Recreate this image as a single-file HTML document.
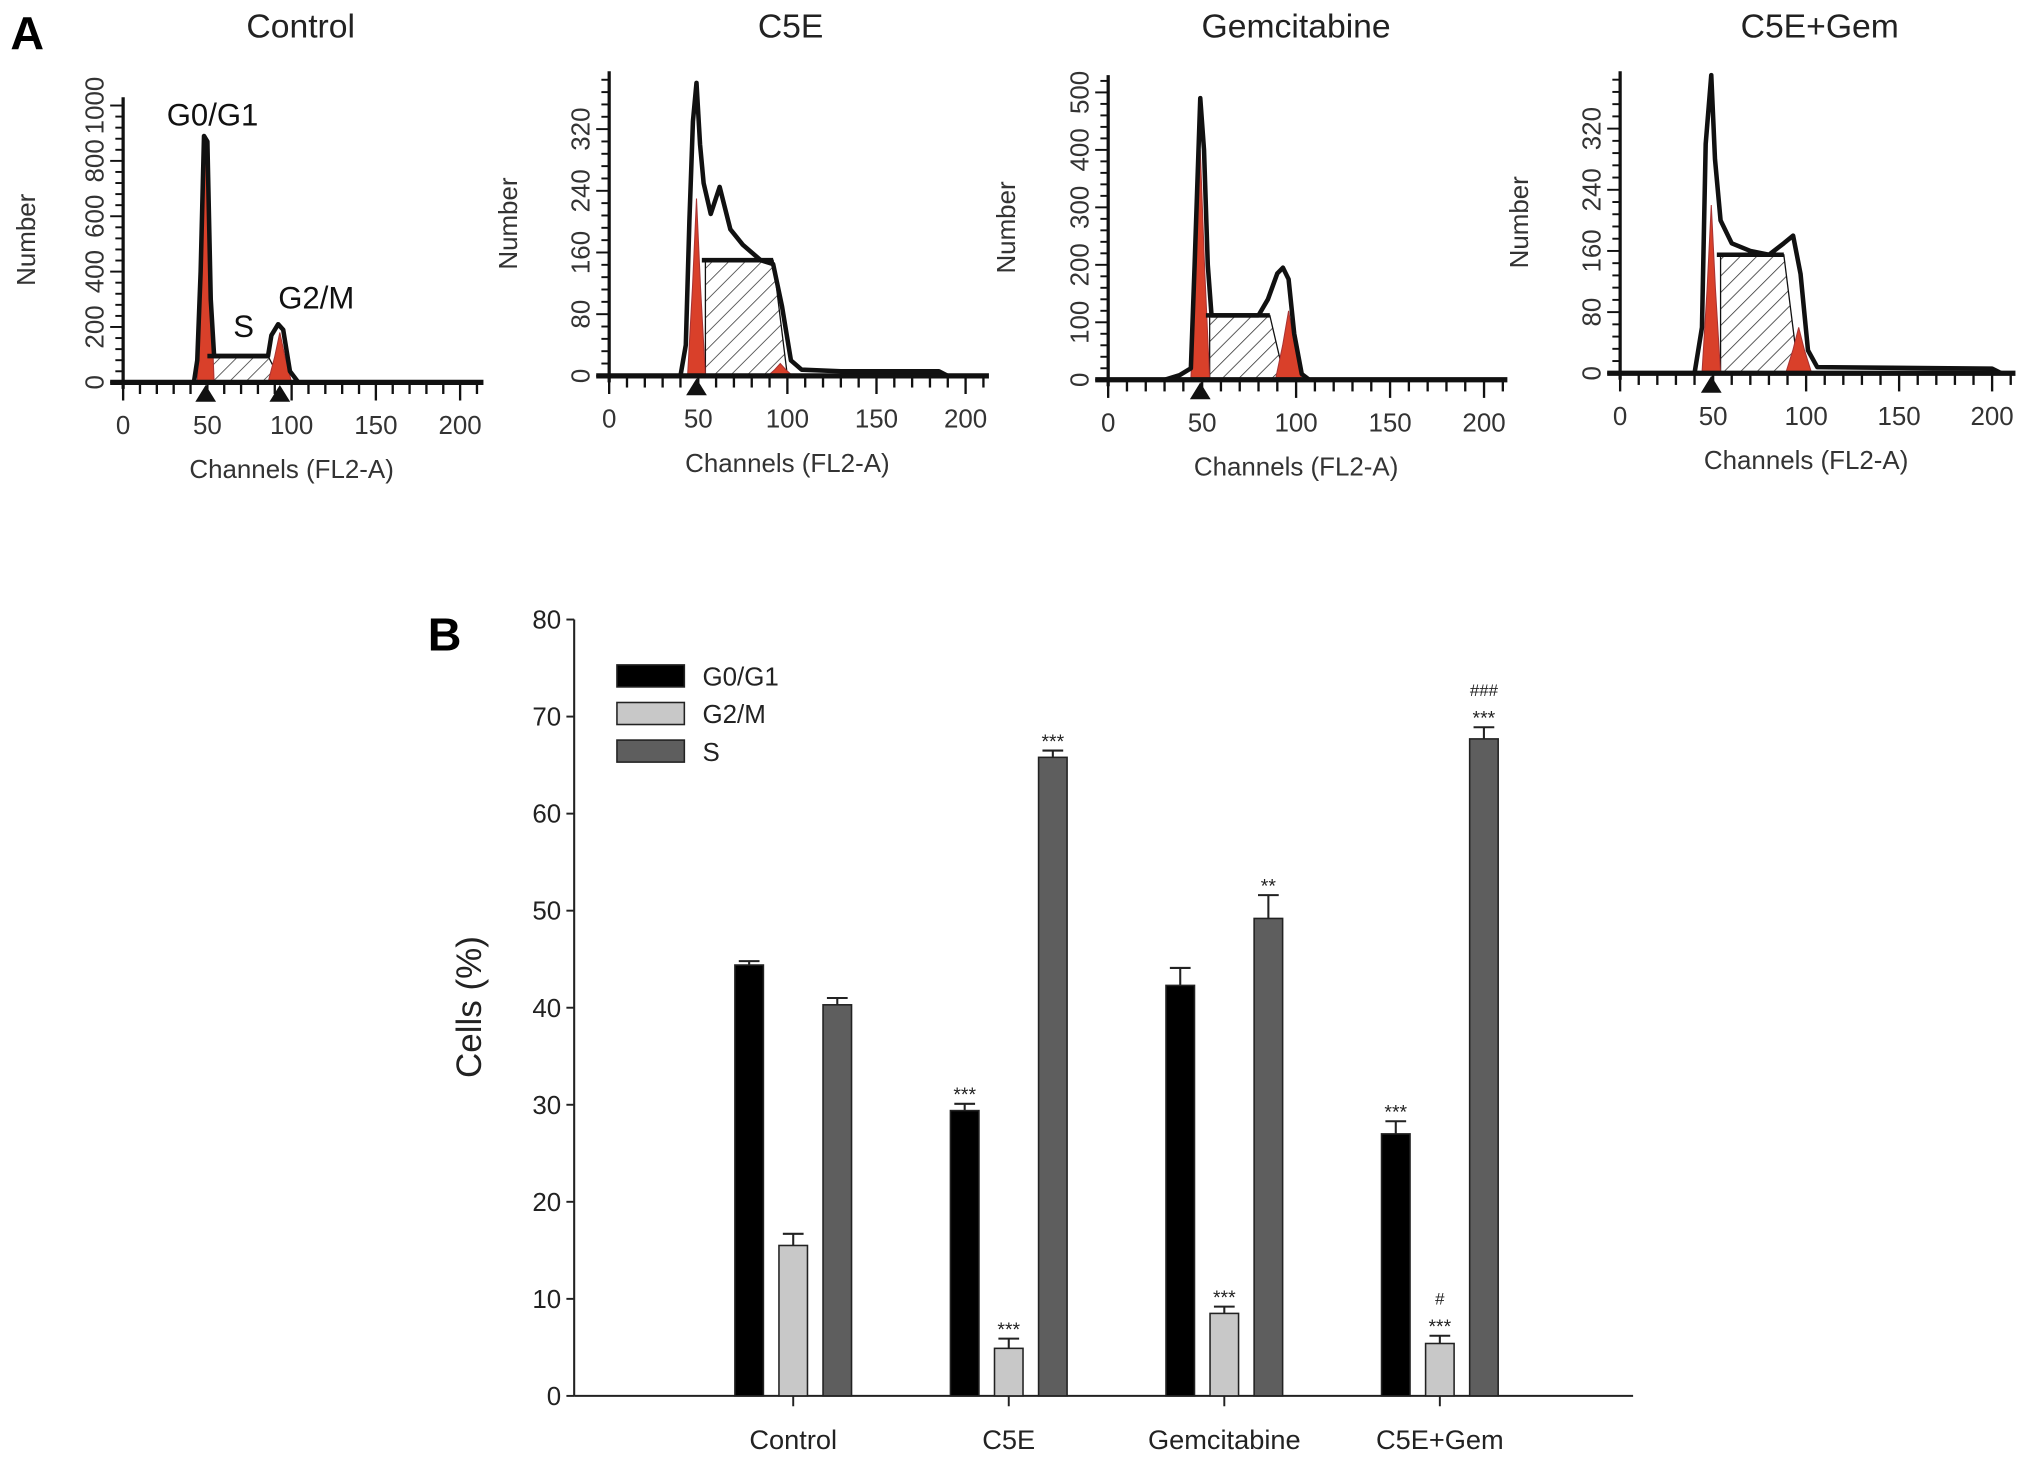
<!DOCTYPE html>
<html><head><meta charset="utf-8"><style>
html,body{margin:0;padding:0;background:#fff;}
svg{display:block;font-family:"Liberation Sans",sans-serif;}
</style></head><body>
<svg id="fig" width="2031" height="1462" viewBox="0 0 1567 1128" preserveAspectRatio="none" xmlns="http://www.w3.org/2000/svg">
<defs>
<pattern id="hatch" patternUnits="userSpaceOnUse" width="9" height="9" patternTransform="rotate(45)">
<rect width="9" height="9" fill="#fff"/><line x1="0" y1="0" x2="0" y2="9" stroke="#333" stroke-width="1.2"/>
</pattern>
</defs>
<text x="8" y="38" font-size="36" font-weight="bold">A</text>
<text x="330" y="502" font-size="36" font-weight="bold">B</text>
<g id="histos"></g>
<g id="bars"></g>
</svg>
<script>
// ---------- Panel A data ----------
const panelTitles = ["Control","C5E","Gemcitabine","C5E+Gem"];
const panelYTicks = [[0,200,400,600,800,1000],[0,80,160,240,320],[0,100,200,300,400,500],[0,80,160,240,320]];
const panelYMax = [1030, 395, 530, 395];
const xTicks = [0,50,100,150,200];
const envControl = [[0,0],[42,0],[44,80],[46,400],[48,890],[50,870],[52,300],[54,95],[86,95],[88,170],[92,210],[95,190],[99,40],[104,0],[210,0]];
const envC5E = [[0,0],[40,0],[43,40],[45,200],[47,330],[49,380],[51,300],[53,250],[57,210],[62,245],[68,190],[75,170],[85,150],[92,145],[97,90],[102,20],[108,8],[130,6],[185,6],[190,0]];
const envGem = [[0,0],[30,0],[38,8],[44,20],[46,200],[49,490],[51,400],[53,200],[55,112],[80,112],[85,140],[90,185],[93,195],[96,175],[99,80],[103,10],[107,0],[210,0]];
const envCombo = [[0,0],[40,0],[44,60],[46,300],[49,390],[51,280],[54,200],[60,170],[70,160],[80,155],[88,170],[93,180],[97,130],[101,30],[106,8],[200,6],[205,0]];
const envelopes = [envControl, envC5E, envGem, envCombo];
const g1Peaks = [[49,880],[49,230],[49,400],[49,220]];   // [channel, height]
const g2Peaks = [[93,180],[96,16],[96,120],[96,60]];
const sLevels = [95,150,112,155];
const sRange = [[52,86],[54,92],[54,86],[54,88]];
// geometry (not data)
const panelGeom = [
 {x0:95,x200:355,xEnd:373,y0:295,yTop:75,tx:232,ylab:20},
 {x0:470,x200:745,xEnd:763,y0:290,yTop:55,tx:610,ylab:392},
 {x0:855,x200:1145,xEnd:1163,y0:293,yTop:58,tx:1000,ylab:776},
 {x0:1250,x200:1537,xEnd:1555,y0:288,yTop:55,tx:1404,ylab:1172}
];
const NS="http://www.w3.org/2000/svg";
function mk(tag,attrs,parent,text){const e=document.createElementNS(NS,tag);for(const k in attrs)e.setAttribute(k,attrs[k]);if(text!==undefined)e.textContent=text;parent.appendChild(e);return e;}
const H=document.getElementById('histos');
panelTitles.forEach((t,i)=>{
 const g=panelGeom[i];
 const sx=c=>g.x0+(g.x200-g.x0)*c/200;
 const sy=v=>g.y0-(g.y0-g.yTop)*v/panelYMax[i];
 const grp=mk('g',{},H);
 
 
 const tt=mk('text',{x:g.tx,y:29,'font-size':26,'text-anchor':'middle',fill:'#222'},grp,t);
 
 
 const [sa,sb]=sRange[i];
 const sp=mk('path',{d:`M${sx(sa)},${sy(0)} L${sx(sa)},${sy(sLevels[i])} L${sx(sb)},${sy(sLevels[i])} L${sx(sb+8)},${sy(0)} Z`,fill:'url(#hatch)',stroke:'#111','stroke-width':1},grp);
 
 
 [g1Peaks[i],g2Peaks[i]].forEach((p,k)=>{
  const w=k==0?5:7;
  const rp=mk('path',{d:`M${sx(p[0]-w)},${sy(0)} L${sx(p[0]-w*0.45)},${sy(p[1]*0.5)} L${sx(p[0])},${sy(p[1])} L${sx(p[0]+w*0.45)},${sy(p[1]*0.5)} L${sx(p[0]+w)},${sy(0)} Z`,fill:'#d9402a',stroke:'#a33','stroke-width':0.8},grp);
  
  
 });
 const env=envelopes[i];
 const ep=mk('polyline',{points:env.map(p=>sx(p[0])+','+sy(p[1])).join(' '),fill:'none',stroke:'#111','stroke-width':3.5,'stroke-linejoin':'round'},grp);
 
 
 const ml=mk('line',{x1:sx(sa-2),y1:sy(sLevels[i]),x2:sx(sb),y2:sy(sLevels[i]),stroke:'#111','stroke-width':3.5},grp);
 
 
 mk('line',{x1:g.x0,y1:g.yTop,x2:g.x0,y2:g.y0+5,stroke:'#111','stroke-width':2.5},grp);
 mk('line',{x1:g.x0-10,y1:g.y0,x2:g.xEnd,y2:g.y0,stroke:'#111','stroke-width':4},grp);
 for(let c=0;c<=210;c+=10){const big=c%50==0;mk('line',{x1:sx(c),y1:g.y0,x2:sx(c),y2:g.y0+(big?14:9),stroke:'#111','stroke-width':1.8},grp);}
 xTicks.forEach(c=>{const tl=mk('text',{x:sx(c),y:g.y0+40,'font-size':20,'text-anchor':'middle',fill:'#333'},grp,c);
  });
 const step=panelYTicks[i][1]/5;
 for(let v=0;v<=panelYMax[i];v+=step){const big=Math.abs(v/panelYTicks[i][1]-Math.round(v/panelYTicks[i][1]))<1e-6;mk('line',{x1:g.x0,y1:sy(v),x2:g.x0-(big?10:6),y2:sy(v),stroke:'#111','stroke-width':1.5},grp);}
 panelYTicks[i].forEach(v=>{const yl=mk('text',{x:0,y:0,'font-size':20,'text-anchor':'middle',fill:'#333',transform:`translate(${g.x0-15},${sy(v)}) rotate(-90)`},grp,v);
  });
 const xt=mk('text',{x:(g.x0+g.x200)/2,y:g.y0+74,'font-size':20,'text-anchor':'middle',fill:'#333'},grp,'Channels  (FL2-A)');
 
 const yt=mk('text',{x:0,y:0,'font-size':20,'text-anchor':'middle',fill:'#333',transform:`translate(${g.ylab+7},${(g.y0+g.yTop)/2}) rotate(-90)`},grp,'Number');
 
 [g1Peaks[i][0]].concat(i==0?[g2Peaks[i][0]]:[]).forEach(c=>mk('path',{d:`M${sx(c)-8},${g.y0+15} L${sx(c)},${g.y0+2} L${sx(c)+8},${g.y0+15} Z`,fill:'#111'},grp));
 if(i==0){
  [['G0/G1',164,97],['S',188,260],['G2/M',244,238]].forEach(a=>{const l=mk('text',{x:a[1],y:a[2],'font-size':24,'text-anchor':'middle',fill:'#111'},grp,a[0]);
   });
 }
});

// ---------- Panel B data ----------
const categories = ["Control","C5E","Gemcitabine","C5E+Gem"];
const seriesNames = ["G0/G1","G2/M","S"];
const g1Values = [44.4, 29.4, 42.3, 27.0];
const g2Values = [15.5, 4.9, 8.5, 5.4];
const sValues = [40.3, 65.8, 49.2, 67.7];
const g1Err = [0.4, 0.7, 1.8, 1.3];
const g2Err = [1.2, 1.0, 0.7, 0.8];
const sErr = [0.7, 0.7, 2.4, 1.2];
const g1Sig = ["", "***", "", "***"];
const g2Sig = ["", "***", "***", "***"];
const sSig = ["", "***", "**", "***"];
const g2Hash = ["", "", "", "#"];
const sHash = ["", "", "", "###"];
const yTicksB = [0,10,20,30,40,50,60,70,80];
const seriesColors = ["#000","#c8c8c8","#5e5e5e"];

const B=document.getElementById('bars');
const X0=443, X1=1260, Y0=1077, Y80=478;
const yS=v=>Y0-(Y0-Y80)*v/80;
const catX=i=>612+i*166.3;
mk('line',{x1:X0,y1:Y80,x2:X0,y2:Y0,stroke:'#222','stroke-width':1.6},B);
mk('line',{x1:X0,y1:Y0,x2:X1,y2:Y0,stroke:'#222','stroke-width':1.6},B);
yTicksB.forEach(v=>{mk('line',{x1:X0-6,y1:yS(v),x2:X0,y2:yS(v),stroke:'#222','stroke-width':1.5},B);
 const t=mk('text',{x:X0-10,y:yS(v)+7,'font-size':20,'text-anchor':'end',fill:'#222'},B,v);
 });
const yt=mk('text',{x:0,y:0,'font-size':27,'text-anchor':'middle',fill:'#222',transform:`translate(371,777) rotate(-90)`},B,'Cells (%)');

categories.forEach((c,i)=>{
 mk('line',{x1:catX(i),y1:Y0,x2:catX(i),y2:Y0+8,stroke:'#222','stroke-width':1.5},B);
 const t=mk('text',{x:catX(i),y:Y0+41,'font-size':21,'text-anchor':'middle',fill:'#222'},B,c);
 
});
const vals=[g1Values,g2Values,sValues], errs=[g1Err,g2Err,sErr], sigs=[g1Sig,g2Sig,sSig], hashes=[["","","",""],g2Hash,sHash];
vals.forEach((arr,s)=>{
 arr.forEach((v,i)=>{
  const cx=catX(i)+(s-1)*34, w=22;
  const r=mk('rect',{x:cx-w/2,y:yS(v),width:w,height:Y0-yS(v),fill:seriesColors[s],stroke:'#222','stroke-width':1.2},B);
  
  
  const ye=yS(v+errs[s][i]);
  mk('line',{x1:cx,y1:yS(v),x2:cx,y2:ye,stroke:'#222','stroke-width':1.6},B);
  mk('line',{x1:cx-8,y1:ye,x2:cx+8,y2:ye,stroke:'#222','stroke-width':1.6},B);
  if(sigs[s][i]){const t=mk('text',{x:cx,y:ye-2,'font-size':15,'text-anchor':'middle',fill:'#222'},B,sigs[s][i]);
   }
  if(hashes[s][i]){const t=mk('text',{x:cx,y:ye-24,'font-size':13,'text-anchor':'middle',fill:'#222'},B,hashes[s][i]);
   }
 });
});
seriesNames.forEach((n,s)=>{
 const y=513+s*29;
 const r=mk('rect',{x:476,y:y,width:52,height:17,fill:seriesColors[s],stroke:'#222','stroke-width':1.2},B);
 
 const t=mk('text',{x:542,y:y+16,'font-size':20,fill:'#222'},B,n);
 
});
</script>
</body></html>
